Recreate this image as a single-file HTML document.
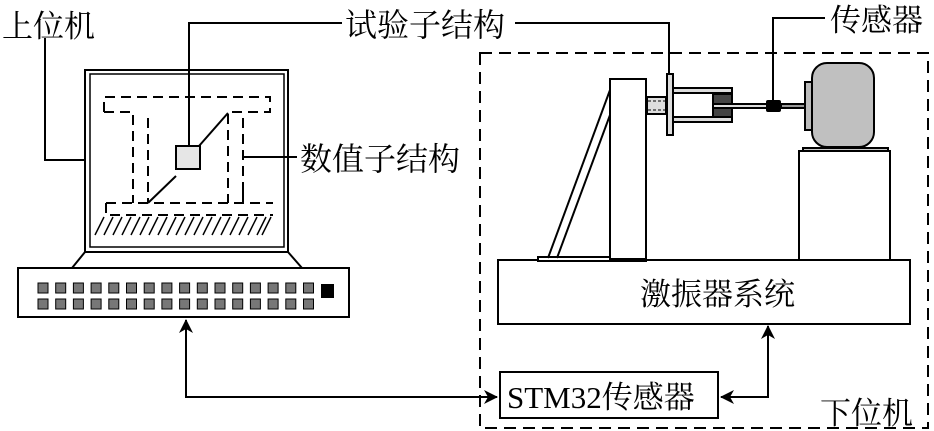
<!DOCTYPE html>
<html><head><meta charset="utf-8"><style>
html,body{margin:0;padding:0;background:#fff;}
svg{display:block;}
text{font-family:"Liberation Serif","Noto Serif CJK SC",serif;fill:#000;}
</style></head><body>
<svg width="934" height="431" viewBox="0 0 934 431" xmlns="http://www.w3.org/2000/svg">
<defs>
<marker id="ah" markerWidth="14" markerHeight="14" refX="13" refY="7" orient="auto" markerUnits="userSpaceOnUse">
<path d="M0,0 L14,7 L0,14 L4,7 Z" fill="#000"/>
</marker>
</defs>
<g stroke="#000" stroke-width="2" fill="none">
<polyline points="45,38 45,160 85,160"/>
<polyline points="189,146 189,23 342,23"/>
<polyline points="515,23 669,23 669,74"/>
<polyline points="243,157 297,157"/>
<polyline points="773,100 773,18 825,18"/>
<rect x="85" y="70" width="203" height="182"/>
<rect x="90" y="74" width="194" height="173" stroke-width="1.5"/>
<line x1="85" y1="252" x2="72" y2="268"/>
<line x1="288" y1="252" x2="302" y2="268"/>
<rect x="18" y="268" width="331" height="49"/>
</g>
<g fill="#777" stroke="#000" stroke-width="1">
<rect x="38" y="283" width="10" height="10"/><rect x="55.7" y="283" width="10" height="10"/><rect x="73.4" y="283" width="10" height="10"/><rect x="91.1" y="283" width="10" height="10"/><rect x="108.8" y="283" width="10" height="10"/><rect x="126.5" y="283" width="10" height="10"/><rect x="144.2" y="283" width="10" height="10"/><rect x="161.9" y="283" width="10" height="10"/><rect x="179.6" y="283" width="10" height="10"/><rect x="197.3" y="283" width="10" height="10"/><rect x="215" y="283" width="10" height="10"/><rect x="232.7" y="283" width="10" height="10"/><rect x="250.4" y="283" width="10" height="10"/><rect x="268.1" y="283" width="10" height="10"/><rect x="285.8" y="283" width="10" height="10"/><rect x="303.5" y="283" width="10" height="10"/>
<rect x="38" y="299" width="10" height="10"/><rect x="55.7" y="299" width="10" height="10"/><rect x="73.4" y="299" width="10" height="10"/><rect x="91.1" y="299" width="10" height="10"/><rect x="108.8" y="299" width="10" height="10"/><rect x="126.5" y="299" width="10" height="10"/><rect x="144.2" y="299" width="10" height="10"/><rect x="161.9" y="299" width="10" height="10"/><rect x="179.6" y="299" width="10" height="10"/><rect x="197.3" y="299" width="10" height="10"/><rect x="215" y="299" width="10" height="10"/><rect x="232.7" y="299" width="10" height="10"/><rect x="250.4" y="299" width="10" height="10"/><rect x="268.1" y="299" width="10" height="10"/><rect x="285.8" y="299" width="10" height="10"/><rect x="303.5" y="299" width="10" height="10"/>
</g>
<rect x="321" y="284" width="13" height="14" fill="#000"/>
<g stroke="#000" stroke-width="2" fill="none" stroke-dasharray="10,6">
<polyline points="104,112 104,97 270,97 270,112 228,112 228,203"/>
<polyline points="104,112 133,112 133,203"/>
<line x1="148" y1="118" x2="148" y2="203"/>
<line x1="243" y1="118" x2="243" y2="203"/>
<line x1="106" y1="203" x2="273" y2="203"/>
<polyline points="106,203 106,215 273,215"/>
</g>
<g stroke="#000" stroke-width="2" fill="none">
<line x1="148" y1="203" x2="176" y2="176"/>
<line x1="199" y1="146" x2="228" y2="113"/>
<line x1="243" y1="203" x2="243" y2="190"/>
</g>
<g stroke="#000" stroke-width="1.5">
<line x1="95" y1="235" x2="104" y2="217"/><line x1="104" y1="235" x2="113" y2="217"/><line x1="113" y1="235" x2="122" y2="217"/><line x1="122" y1="235" x2="131" y2="217"/><line x1="131" y1="235" x2="140" y2="217"/><line x1="140" y1="235" x2="149" y2="217"/><line x1="149" y1="235" x2="158" y2="217"/><line x1="158" y1="235" x2="167" y2="217"/><line x1="167" y1="235" x2="176" y2="217"/><line x1="176" y1="235" x2="185" y2="217"/><line x1="185" y1="235" x2="194" y2="217"/><line x1="194" y1="235" x2="203" y2="217"/><line x1="203" y1="235" x2="212" y2="217"/><line x1="212" y1="235" x2="221" y2="217"/><line x1="221" y1="235" x2="230" y2="217"/><line x1="230" y1="235" x2="239" y2="217"/><line x1="239" y1="235" x2="248" y2="217"/><line x1="248" y1="235" x2="257" y2="217"/><line x1="257" y1="235" x2="266" y2="217"/><line x1="262" y1="235" x2="271" y2="217"/>
</g>
<rect x="176" y="146" width="24" height="23" fill="#e6e6e6" stroke="#000" stroke-width="2"/>
<rect x="480" y="53" width="448" height="375" fill="none" stroke="#000" stroke-width="2" stroke-dasharray="12,7"/>
<g stroke="#000" stroke-width="2" fill="#fff">
<rect x="498" y="260" width="412" height="64"/>
<rect x="538" y="257" width="108" height="4"/>
<rect x="610" y="79" width="36" height="180"/>
<line x1="548" y1="258" x2="610" y2="90"/>
<line x1="557" y1="258" x2="610" y2="115"/>
<rect x="799" y="151" width="91" height="109"/>
<rect x="803" y="148" width="85" height="3" fill="#ccc"/>
<rect x="647" y="97" width="19" height="17" fill="#ddd"/>
<rect x="673" y="88" width="59" height="5" fill="#ddd"/>
<rect x="673" y="117" width="59" height="5" fill="#ddd"/>
<rect x="713" y="94" width="19" height="23" fill="#444"/>
<rect x="713" y="104" width="57" height="4" fill="#ddd"/>
<rect x="781" y="104" width="29" height="4" fill="#999"/>
<rect x="667" y="74" width="6" height="61" fill="#ddd"/>
<rect x="805" y="82" width="7" height="48" fill="#bbb"/>
<rect x="812" y="63" width="62" height="84" rx="15" fill="#c0c0c0"/>
</g>
<rect x="766" y="100" width="15" height="12" rx="2" fill="#000"/>
<g stroke="#000" stroke-width="1" stroke-dasharray="3,2"><line x1="648" y1="101" x2="665" y2="101"/><line x1="648" y1="110" x2="665" y2="110"/></g>
<rect x="500" y="372" width="218" height="46" fill="#fff" stroke="#000" stroke-width="2"/>
<g stroke="#000" stroke-width="2" fill="none">
<polyline points="186,330 186,397 497,397" marker-end="url(#ah)"/>
<line x1="186" y1="398" x2="186" y2="320" marker-end="url(#ah)"/>
<polyline points="768,332 768,397 721,397" marker-end="url(#ah)"/>
<line x1="768" y1="397" x2="768" y2="326" marker-end="url(#ah)"/>
</g>
<text x="2" y="37" font-size="31">上位机</text>
<text x="345" y="36" font-size="32">试验子结构</text>
<text x="300" y="170" font-size="32">数值子结构</text>
<text x="830" y="31" font-size="31">传感器</text>
<text x="640" y="305" font-size="31">激振器系统</text>
<text x="507" y="408" font-size="31">STM32传感器</text>
<text x="820" y="424" font-size="31">下位机</text>
</svg>
</body></html>
